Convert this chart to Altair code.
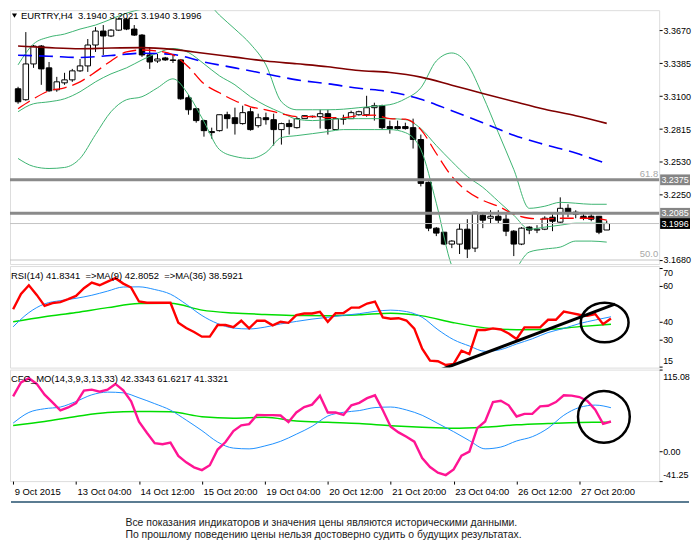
import altair as alt
import pandas as pd

# ---------------- data ----------------
x_tick_idx = [0, 8, 16, 24, 32, 40, 48, 56, 64, 72]
x_tick_labels = ["9 Oct 2015", "13 Oct 04:00", "14 Oct 12:00", "15 Oct 20:00", "19 Oct 04:00",
                 "20 Oct 12:00", "21 Oct 20:00", "23 Oct 04:00", "26 Oct 12:00", "27 Oct 20:00"]
price_ticks = [3.3670, 3.3385, 3.3100, 3.2815, 3.2530, 3.2250, 3.1680]
rsi_ticks = [15, 30, 40, 60, 70]
cfg_ticks = [-41.2596, 0.0, 115.0838]
cfg_tick_texts = ["-41.25", "0.00", "115.08"]   # cut by the right edge in the reference

opens = [3.3164, 3.3069, 3.3379, 3.3534, 3.3345, 3.3155, 3.3215, 3.3241, 3.3319, 3.3362,
         3.3543, 3.3664, 3.3621, 3.3672, 3.3767, 3.3681, 3.3629, 3.3457, 3.3405, 3.3431,
         3.3414, 3.3414, 3.3086, 3.2991, 3.2888, 3.2793, 3.2801, 3.2939, 3.2913, 3.2862,
         3.2965, 3.2844, 3.2913, 3.2896, 3.2810, 3.2862, 3.2827, 3.2905, 3.2922, 3.2922,
         3.2948, 3.2810, 3.2905, 3.2905, 3.2939, 3.2939, 3.3000, 3.3017, 3.2836, 3.2836,
         3.2836, 3.2827, 3.2724, 3.2353, 3.1956, 3.1921, 3.1818, 3.1818, 3.1947, 3.1783,
         3.2068, 3.2042, 3.2059, 3.2034, 3.1930, 3.1818, 3.1965, 3.1939, 3.1947, 3.2051,
         3.2008, 3.2128, 3.2094, 3.2059, 3.2059, 3.2059, 3.1940]
highs = [3.3181, 3.3655, 3.3543, 3.3543, 3.3396, 3.3267, 3.3302, 3.3336, 3.3422, 3.3595,
         3.3698, 3.3716, 3.3681, 3.3776, 3.3776, 3.3716, 3.3638, 3.3526, 3.3465, 3.3440,
         3.3457, 3.3422, 3.3112, 3.3000, 3.2896, 3.2827, 3.2939, 3.2965, 3.3000, 3.3017,
         3.3000, 3.2948, 3.2957, 3.2948, 3.2870, 3.2896, 3.2922, 3.2931, 3.2931, 3.2982,
         3.2982, 3.2913, 3.2939, 3.2974, 3.2974, 3.3103, 3.3043, 3.3026, 3.2888, 3.2888,
         3.2870, 3.2905, 3.2767, 3.2361, 3.1965, 3.1921, 3.1852, 3.1999, 3.2034, 3.2094,
         3.2094, 3.2111, 3.2111, 3.2077, 3.1939, 3.1965, 3.1973, 3.1982, 3.2059, 3.2077,
         3.2223, 3.2163, 3.2111, 3.2094, 3.2094, 3.2059, 3.2021]
lows = [3.3034, 3.3060, 3.3345, 3.3198, 3.3138, 3.3138, 3.3198, 3.3224, 3.3310, 3.3310,
        3.3483, 3.3457, 3.3612, 3.3664, 3.3672, 3.3621, 3.3440, 3.3336, 3.3388, 3.3405,
        3.3388, 3.3069, 3.2939, 3.2870, 3.2749, 3.2732, 3.2793, 3.2819, 3.2767, 3.2853,
        3.2801, 3.2827, 3.2853, 3.2672, 3.2680, 3.2767, 3.2819, 3.2905, 3.2913, 3.2819,
        3.2767, 3.2810, 3.2853, 3.2905, 3.2931, 3.2922, 3.2888, 3.2810, 3.2775, 3.2810,
        3.2810, 3.2646, 3.2318, 3.1930, 3.1887, 3.1809, 3.1783, 3.1732, 3.1697, 3.1749,
        3.1956, 3.1999, 3.1999, 3.1887, 3.1714, 3.1809, 3.1904, 3.1913, 3.1939, 3.1930,
        3.1999, 3.2051, 3.2042, 3.2025, 3.2016, 3.1904, 3.1940]
closes = [3.3051, 3.3379, 3.3534, 3.3336, 3.3146, 3.3224, 3.3241, 3.3319, 3.3362, 3.3543,
          3.3664, 3.3621, 3.3672, 3.3767, 3.3681, 3.3629, 3.3457, 3.3396, 3.3422, 3.3414,
          3.3409, 3.3077, 3.2982, 3.2888, 3.2801, 3.2784, 3.2939, 3.2905, 3.2862, 3.2957,
          3.2810, 3.2913, 3.2896, 3.2810, 3.2862, 3.2836, 3.2905, 3.2931, 3.2926, 3.2948,
          3.2819, 3.2905, 3.2900, 3.2957, 3.2965, 3.3000, 3.3017, 3.2827, 3.2819, 3.2819,
          3.2819, 3.2724, 3.2344, 3.1956, 3.1913, 3.1818, 3.1844, 3.1947, 3.1775, 3.2094,
          3.2025, 3.2059, 3.2025, 3.1930, 3.1818, 3.1956, 3.1939, 3.1947, 3.2042, 3.2016,
          3.2128, 3.2085, 3.2077, 3.2042, 3.2034, 3.1921, 3.1996]

# indicator lines (sampled every 2 or 4 bars)
idx2 = list(range(0, 77, 2))
idx4 = list(range(0, 77, 4))
ma_slow = [3.3534, 3.3520, 3.3511, 3.3517, 3.3520, 3.3505, 3.3472, 3.3438, 3.3404, 3.3380,
           3.3355, 3.3322, 3.3305, 3.3265, 3.3195, 3.3123, 3.3054, 3.2987, 3.2930, 3.2864]
ma_mid = [3.3454, 3.3446, 3.3435, 3.3452, 3.3472, 3.3461, 3.3396, 3.3345, 3.3293, 3.3241,
          3.3207, 3.3168, 3.3138, 3.3073, 3.2974, 3.2870, 3.2762, 3.2680, 3.2607, 3.2514]
ma_fast = [3.2991, 3.3077, 3.3146, 3.3172, 3.3224, 3.3310, 3.3405, 3.3483, 3.3500, 3.3491,
           3.3457, 3.3353, 3.3207, 3.3129, 3.3060, 3.3008, 3.2982, 3.2948, 3.2922, 3.2922,
           3.2913, 3.2913, 3.2931, 3.2935, 3.2905, 3.2900, 3.2810, 3.2603, 3.2405, 3.2275,
           3.2197, 3.2146, 3.2077, 3.2042, 3.2034, 3.2042, 3.2042, 3.2042, 3.2025]
band_upper = [3.3371, 3.3552, 3.3612, 3.3638, 3.3681, 3.3716, 3.3767, 3.3819, 3.3854, 3.3871,
              3.3940, 3.3983, 3.3940, 3.3802, 3.3681, 3.3552, 3.3371, 3.3051, 3.2982, 3.2982,
              3.2982, 3.2987, 3.3000, 3.3013, 3.3026, 3.3077, 3.3172, 3.3405, 3.3474, 3.3379,
              3.3103, 3.2784, 3.2465, 3.2128, 3.2146, 3.2180, 3.2172, 3.2163, 3.2163]
band_mid = [3.2965, 3.3034, 3.3051, 3.3077, 3.3138, 3.3224, 3.3293, 3.3345, 3.3414, 3.3474,
            3.3513, 3.3478, 3.3380, 3.3276, 3.3198, 3.3095, 3.3017, 3.2957, 3.2900, 3.2888,
            3.2896, 3.2905, 3.2905, 3.2905, 3.2905, 3.2896, 3.2819, 3.2672, 3.2534, 3.2404,
            3.2310, 3.2189, 3.2068, 3.1947, 3.1965, 3.1982, 3.1999, 3.1999, 3.1999]
band_lower = [3.2560, 3.2491, 3.2473, 3.2482, 3.2560, 3.2767, 3.2965, 3.3069, 3.3095, 3.3172,
              3.3250, 3.3112, 3.2879, 3.2637, 3.2577, 3.2560, 3.2612, 3.2741, 3.2758, 3.2775,
              3.2793, 3.2810, 3.2810, 3.2810, 3.2810, 3.2784, 3.2637, 3.2172, 3.1628, 3.1456,
              3.1326, 3.1369, 3.1568, 3.1749, 3.1775, 3.1792, 3.1844, 3.1844, 3.1835]

rsi = [47.0, 55.5, 60.4, 55.0, 48.9, 50.4, 51.0, 52.6, 54.4, 58.7,
       61.9, 60.4, 62.4, 64.3, 61.3, 59.1, 51.3, 50.6, 50.6, 50.6,
       50.6, 39.5, 36.5, 34.3, 31.7, 31.7, 38.2, 38.2, 37.0, 40.6,
       36.3, 40.6, 40.6, 38.0, 40.0, 39.4, 43.7, 44.6, 44.6, 45.6,
       40.0, 44.8, 44.9, 47.9, 47.9, 50.2, 51.3, 42.4, 41.7, 42.0,
       40.7, 36.2, 25.0, 18.3, 18.0, 15.9, 16.5, 23.9, 22.0, 35.4,
       35.4, 36.3, 35.7, 33.5, 30.4, 36.9, 36.9, 36.9, 41.1, 41.1,
       45.7, 44.8, 43.9, 43.3, 44.3, 38.7, 41.8]
rsi_ma9 = [37.2, 45.1, 50.0, 51.8, 53.1, 54.8, 57.1, 59.4, 59.5, 58.0,
           55.4, 49.8, 43.5, 39.0, 36.5, 36.0, 37.0, 38.8, 40.2, 41.5,
           42.5, 43.6, 44.5, 45.8, 46.5, 45.7, 42.5, 35.6, 30.0, 26.5,
           23.5, 24.5, 27.6, 30.5, 34.0, 36.3, 39.0, 41.0, 42.8]
rsi_ma36 = [40.0, 42.8, 45.2, 47.9, 50.2, 50.4, 46.5, 44.9, 44.1, 43.5,
            43.4, 43.9, 44.8, 43.3, 39.5, 36.6, 35.6, 35.7, 37.3, 38.6]
trend_i = [54.4, 76.5]
trend_v = [13.3, 49.8]

cfg = [77.5, 97.0, 103.0, 95.0, 80.0, 69.0, 58.0, 62.0, 68.0, 85.5,
       86.9, 84.0, 87.0, 95.0, 86.0, 70.5, 42.0, 26.5, 12.0, 10.4,
       12.7, -6.0, -15.0, -22.0, -25.8, -19.0, 3.0, 13.5, 29.0, 37.0,
       38.6, 51.5, 51.3, 51.2, 50.7, 41.4, 55.0, 62.5, 66.0, 78.5,
       55.0, 54.9, 51.7, 65.0, 68.5, 75.0, 79.0, 58.0, 35.0, 27.0,
       21.0, 14.0, -9.0, -21.6, -29.5, -32.8, -24.8, -5.6, 0.0, 32.9,
       42.3, 69.5, 71.3, 65.0, 49.3, 53.0, 53.1, 63.5, 64.4, 69.5,
       79.0, 78.5, 76.6, 71.0, 59.0, 39.0, 42.3]
cfg_sig = [40.0, 55.0, 60.2, 62.6, 70.4, 79.7, 83.5, 82.5, 75.5, 67.3,
           58.2, 44.3, 29.5, 13.5, 5.0, 3.9, 8.0, 14.5, 24.5, 35.5,
           50.0, 55.2, 57.6, 61.8, 62.6, 58.5, 51.0, 39.5, 28.0, 15.5,
           4.0, 6.5, 15.0, 21.0, 32.9, 51.0, 62.0, 65.3, 61.6]
cfg_slow = [36.6, 42.3, 49.3, 54.9, 56.3, 55.9, 49.0, 47.0, 48.3, 43.0,
            41.1, 39.5, 36.5, 34.3, 32.9, 34.5, 37.6, 39.5, 41.0, 41.3]

level_prices = [3.2375, 3.2085]
bid_price = 3.1996
fifty_price = 3.1680
level_texts = ["61.8", "50.0"]
box_prices = [3.2375, 3.2085, 3.1996]
box_colors = ["#858585", "#858585", "#000000"]

header_text = "EURTRY,H4\u00a0\u00a03.1940 3.2021 3.1940 3.1996"
rsi_text = "RSI(14) 41.8341 \u00a0=>MA(9) 42.8052 \u00a0=>MA(36) 38.5921"
cfg_text = "CFG_MO(14,3,9,3,13,33) 42.3343 61.6217 41.3321"
footer_lines = ["Все показания индикаторов и значения цены являются историческими данными.",
                "По прошлому поведению цены нельзя достоверно судить о будущих результатах."]

# ---------------- layout constants ----------------
FONT = "Liberation Sans"
FS = 9.5
AFS = 9.0
W = 652
H_MAIN, H_RSI, H_CFG = 255, 102, 112
GAP = 2
XDOM = [-0.4, 82.125]
PDOM = [3.1645, 3.3845]
RDOM = [14.44, 71.1]
CDOM = [-41.2596, 115.0838]

xscale = alt.Scale(domain=XDOM, nice=False, zero=False)
pscale = alt.Scale(domain=PDOM, nice=False, zero=False)
rscale = alt.Scale(domain=RDOM, nice=False, zero=False)
cscale = alt.Scale(domain=CDOM, nice=False, zero=False)

common_y = dict(orient="right", domain=False, tickSize=3, tickColor="black", labelPadding=1,
                labelFont=FONT, labelFontSize=AFS, labelColor="black", title=None,
                grid=False, labelOverlap=False)
price_axis = alt.Axis(values=price_ticks, format=".4f", **common_y)
rsi_axis = alt.Axis(values=rsi_ticks, labels=False, **common_y)
cfg_axis = alt.Axis(values=cfg_ticks, labels=False, **common_y)
label_expr = "[" + ",".join("'%s'" % s for s in x_tick_labels) + "][round(datum.value / 8)]"
x_axis = alt.Axis(values=x_tick_idx, labelExpr=label_expr, orient="bottom", domain=False,
                  tickSize=3, tickColor="black", labelAlign="left", labelBaseline="top",
                  labelPadding=2, labelOffset=1, labelFont=FONT, labelFontSize=FS,
                  labelColor="black", title=None, grid=False, labelOverlap=False,
                  labelFlush=False)


def X(xaxis):
    return alt.X("i:Q", scale=xscale, axis=xaxis)


def Y(field, scale, yaxis):
    return alt.Y(field, type="quantitative", scale=scale, axis=yaxis)


candles = pd.DataFrame({"i": list(range(len(opens))), "open": opens, "high": highs,
                        "low": lows, "close": closes})
candles["bull"] = candles["close"] >= candles["open"]

one = pd.DataFrame({"k": [0]})


def line(xs, ys, scale, yaxis, xaxis, color, width, dash=None, interp="linear"):
    df = pd.DataFrame({"i": xs, "v": ys})
    kw = dict(color=color, strokeWidth=width, clip=True, interpolate=interp)
    if dash:
        kw["strokeDash"] = dash
    return alt.Chart(df).mark_line(**kw).encode(x=X(xaxis), y=Y("v", scale, yaxis))


def side_labels(vals, texts, scale, yaxis, dy):
    df = pd.DataFrame({"v": vals, "t": texts})
    return alt.Chart(df).mark_text(align="left", baseline="middle", font=FONT, fontSize=AFS,
                                   color="black", dy=dy).encode(
        x=alt.value(W + 4), y=Y("v", scale, yaxis), text="t:N")


# ---------------- main price panel ----------------
PA = price_axis
wicks = alt.Chart(candles).mark_rule(color="black", strokeWidth=1, clip=True).encode(
    x=X(None), y=Y("low", pscale, PA), y2="high:Q")
bodies = alt.Chart(candles).mark_bar(size=5.5, stroke="black", strokeWidth=1, clip=True).encode(
    x=X(None), y=Y("open", pscale, PA), y2="close:Q",
    fill=alt.condition("datum.bull", alt.value("white"), alt.value("black")))

bands_df = pd.concat([
    pd.DataFrame({"i": idx2, "v": band_upper, "b": "upper"}),
    pd.DataFrame({"i": idx2, "v": band_mid, "b": "mid"}),
    pd.DataFrame({"i": idx2, "v": band_lower, "b": "lower"}),
])
bands = alt.Chart(bands_df).mark_line(color="#3cb371", strokeWidth=1, clip=True,
                                      interpolate="monotone").encode(
    x=X(None), y=Y("v", pscale, PA), detail="b:N")

slow = line(idx4, ma_slow, pscale, PA, None, "#800000", 1.6, interp="monotone")
mid = line(idx4, ma_mid, pscale, PA, None, "#0000ff", 1.6, dash=[14, 7], interp="monotone")
fast = line(idx2, ma_fast, pscale, PA, None, "#ff0000", 1.3, dash=[14, 6], interp="monotone")

lv = alt.Chart(pd.DataFrame({"p": level_prices})).mark_rule(
    color="#8a8a8a", strokeWidth=3).encode(y=Y("p", pscale, PA))
thin = alt.Chart(pd.DataFrame({"p": [bid_price, fifty_price]})).mark_rule(
    color="#c4c4c4", strokeWidth=1).encode(y=Y("p", pscale, PA))
lv_text = alt.Chart(pd.DataFrame({"p": [level_prices[0], fifty_price], "t": level_texts})).mark_text(
    align="right", baseline="bottom", color="#a8a8a8", font=FONT, fontSize=FS, dy=-1).encode(
    x=alt.value(W - 1), y=Y("p", pscale, PA), text="t:N")

box_df = pd.DataFrame({"p": box_prices, "c": box_colors,
                       "t": ["%.4f" % v for v in box_prices]})
boxes = alt.Chart(box_df).mark_point(
    shape="M-1,-0.36L1,-0.36L1,0.36L-1,0.36Z", filled=True, size=900, opacity=1,
    strokeWidth=0).encode(x=alt.value(668), y=Y("p", pscale, PA),
                          color=alt.Color("c:N", scale=None))
box_text = alt.Chart(box_df).mark_text(color="white", font=FONT, fontSize=AFS,
                                       align="center", baseline="middle").encode(
    x=alt.value(668), y=Y("p", pscale, PA), text="t:N")

tri = alt.Chart(one).mark_point(shape="triangle-down", filled=True, color="black",
                                size=26, opacity=1).encode(x=alt.value(4.5), y=alt.value(5.5))
head = alt.Chart(pd.DataFrame({"t": [header_text]})).mark_text(
    align="left", baseline="middle", font=FONT, fontSize=FS, color="black").encode(
    x=alt.value(11), y=alt.value(6), text="t:N")

main = alt.layer(wicks, bodies, bands, slow, mid, fast, lv, thin, lv_text,
                 boxes, box_text, tri, head).properties(width=W, height=H_MAIN)

# ---------------- RSI panel ----------------
RA = rsi_axis
r_green = line(idx4, rsi_ma36, rscale, RA, None, "#00dd00", 1.5, interp="monotone")
r_blue = line(idx2, rsi_ma9, rscale, RA, None, "#1e90ff", 1, interp="monotone")
r_red = line(list(range(len(rsi))), rsi, rscale, RA, None, "#ff0000", 2.4)
r_trend = line(trend_i, trend_v, rscale, RA, None, "black", 3)
r_circle = alt.Chart(pd.DataFrame({"i": [75.2], "v": [39.6]})).mark_point(
    shape="M-1,0A1,0.83,0,1,1,1,0A1,0.83,0,1,1,-1,0Z", filled=False, color="black",
    strokeWidth=2.5, size=2304, opacity=1).encode(x=X(None), y=Y("v", rscale, RA))
r_head = alt.Chart(pd.DataFrame({"t": [rsi_text]})).mark_text(
    align="left", baseline="middle", font=FONT, fontSize=FS, color="black").encode(
    x=alt.value(1), y=alt.value(10), text="t:N")
r_lab_mid = side_labels(rsi_ticks[1:4], [str(v) for v in rsi_ticks[1:4]], rscale, RA, 0)
r_lab_bot = side_labels(rsi_ticks[:1], [str(v) for v in rsi_ticks[:1]], rscale, RA, -6)
rsi_panel = alt.layer(r_green, r_blue, r_red, r_trend, r_circle, r_head,
                      r_lab_mid, r_lab_bot).properties(width=W, height=H_RSI)

# ---------------- CFG_MO panel ----------------
CA, XA = cfg_axis, x_axis
c_green = line(idx4, cfg_slow, cscale, CA, XA, "#00dd00", 1.5, interp="monotone")
c_blue = line(idx2, cfg_sig, cscale, CA, XA, "#1e90ff", 1, interp="monotone")
c_main = line(list(range(len(cfg))), cfg, cscale, CA, XA, "#ff1493", 2.4)
c_circle = alt.Chart(pd.DataFrame({"i": [75.1], "v": [48.9]})).mark_point(
    shape="circle", filled=False, color="black", strokeWidth=2.5, size=2704,
    opacity=1).encode(x=X(XA), y=Y("v", cscale, CA))
c_head = alt.Chart(pd.DataFrame({"t": [cfg_text]})).mark_text(
    align="left", baseline="middle", font=FONT, fontSize=FS, color="black").encode(
    x=alt.value(1), y=alt.value(9.5), text="t:N")
c_lab_bot = side_labels(cfg_ticks[:1], cfg_tick_texts[:1], cscale, CA, -6)
c_lab_mid = side_labels(cfg_ticks[1:2], cfg_tick_texts[1:2], cscale, CA, 0)
c_lab_top = side_labels(cfg_ticks[2:], cfg_tick_texts[2:], cscale, CA, 7.5)
# RSI "70" level label (just under the RSI panel's top edge), drawn last so nothing covers it
rsi_top_label = alt.Chart(pd.DataFrame({"lab": ["70"]})).mark_text(
    align="left", baseline="middle", font=FONT, fontSize=AFS, color="#000000").encode(
    x=alt.value(W + 4), y=alt.value(-(H_RSI + GAP) + 7.2), text="lab:N")
sep = alt.Chart(one).mark_rule(color="#24506e", strokeWidth=1.5).encode(
    x=alt.value(1), x2=alt.value(682), y=alt.value(133))
footer = alt.Chart(pd.DataFrame({"t": ["\n".join(footer_lines)]})).mark_text(
    align="left", baseline="middle", font=FONT, fontSize=10.45, color="#1a1a1a",
    lineBreak="\n", lineHeight=11.7).encode(x=alt.value(116), y=alt.value(154.5), text="t:N")
cfg_panel = alt.layer(c_green, c_blue, c_main, c_circle, c_head, c_lab_bot, c_lab_mid,
                      c_lab_top, sep, footer, rsi_top_label).properties(width=W, height=H_CFG)

chart = alt.vconcat(main, rsi_panel, cfg_panel, spacing=GAP, bounds="flush").resolve_scale(
    x="independent", y="independent").properties(padding=0, background="white").configure_view(
    stroke="black", strokeWidth=1).configure(font=FONT)

chart.save("out.html", embed_options={"renderer": "svg", "actions": False})
